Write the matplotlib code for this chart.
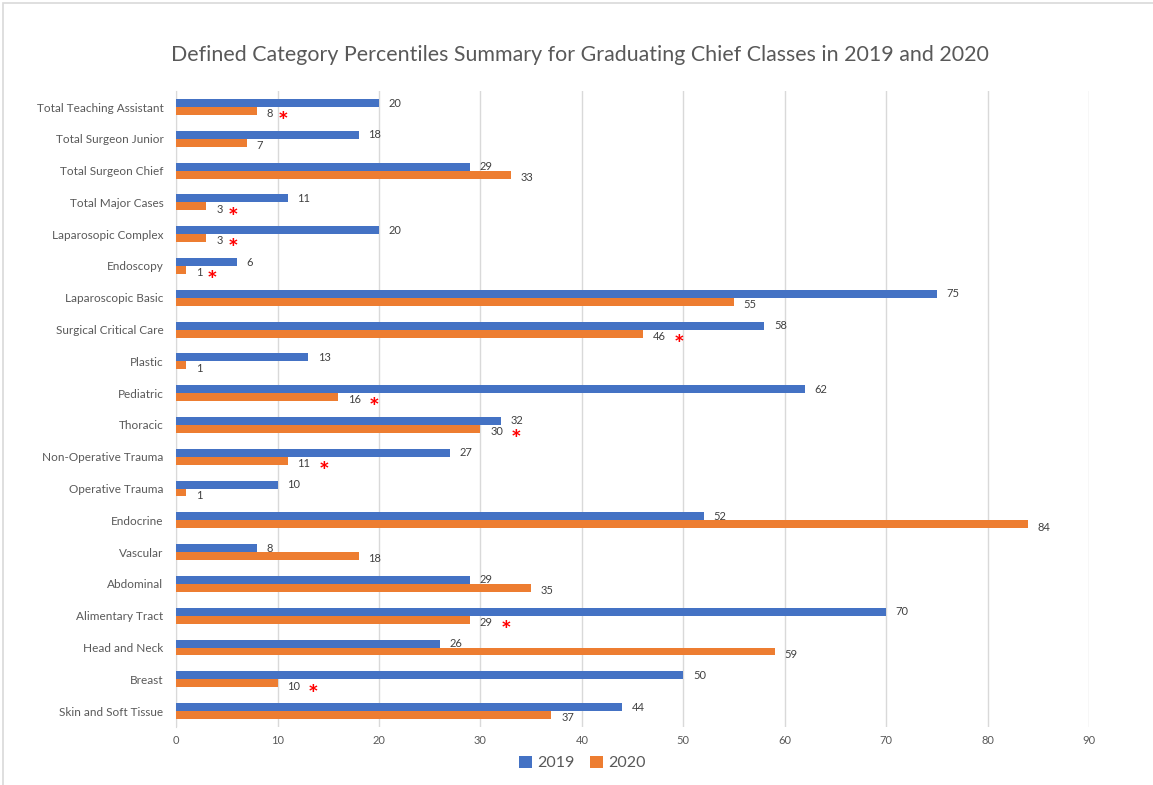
import numpy as np
import matplotlib
matplotlib.use("Agg")
import matplotlib.pyplot as plt
from matplotlib.patches import Rectangle

# categories from top to bottom, as shown in the chart
categories = [
    "Total Teaching Assistant", "Total Surgeon Junior", "Total Surgeon Chief",
    "Total Major Cases", "Laparosopic Complex", "Endoscopy", "Laparoscopic Basic",
    "Surgical Critical Care", "Plastic", "Pediatric", "Thoracic",
    "Non-Operative Trauma", "Operative Trauma", "Endocrine", "Vascular",
    "Abdominal", "Alimentary Tract", "Head and Neck", "Breast",
    "Skin and Soft Tissue",
]
values_2019 = [20, 18, 29, 11, 20, 6, 75, 58, 13, 62, 32, 27, 10, 52, 8, 29, 70, 26, 50, 44]
values_2020 = [8, 7, 33, 3, 3, 1, 55, 46, 1, 16, 30, 11, 1, 84, 18, 35, 29, 59, 10, 37]
# categories marked with a red asterisk next to the 2020 bar
flagged = [
    "Total Teaching Assistant", "Total Major Cases", "Laparosopic Complex",
    "Endoscopy", "Surgical Critical Care", "Pediatric", "Thoracic",
    "Non-Operative Trauma", "Alimentary Tract", "Breast",
]
x_ticks = [0, 10, 20, 30, 40, 50, 60, 70, 80, 90]

BLUE = "#4472C4"
ORANGE = "#ED7D31"
TEXT = "#595959"
GRID = "#D9D9D9"

plt.rcParams["font.family"] = ["Lato", "DejaVu Sans"]

fig = plt.figure(figsize=(11.53, 7.85), dpi=100)
ax = fig.add_axes([0.1527, 0.0739, 0.7918, 0.810])

# chart area border
fig.patches.append(Rectangle((3 / 1153, -0.01), 1.02, 1 - 3 / 785 + 0.01,
                             transform=fig.transFigure, fill=False,
                             edgecolor="#D9D9D9", linewidth=1.2))

n = len(categories)
y = np.arange(n)
h = 0.25
ax.barh(y - h / 2, values_2019, height=h, color=BLUE, label="2019", zorder=3)
ax.barh(y + h / 2, values_2020, height=h, color=ORANGE, label="2020", zorder=3)

for yi, v in zip(y, values_2019):
    ax.annotate(str(v), (v, yi - h / 2), xytext=(7, 0), textcoords="offset points",
                ha="left", va="center", fontsize=8, color="#404040")
for yi, v in zip(y, values_2020):
    ax.annotate(str(v), (v, yi + h / 2), xytext=(7, -2), textcoords="offset points",
                ha="left", va="center", fontsize=8, color="#404040")

for cat in flagged:
    i = categories.index(cat)
    v = values_2020[i]
    off = 22 if v >= 10 else 15
    ax.annotate("*", (v, y[i] + h / 2), xytext=(off, -8.5), textcoords="offset points",
                ha="left", va="center", fontsize=18, color="red", fontweight="bold")

ax.set_xlim(0, 90)
ax.set_ylim(n - 0.5, -0.5)
ax.set_xticks(x_ticks)
ax.set_xticklabels([str(t) for t in x_ticks])
ax.set_yticks(y)
ax.set_yticklabels(categories)
ax.tick_params(axis="y", length=0, pad=9, labelsize=8.5, labelcolor=TEXT)
ax.tick_params(axis="x", length=0, pad=6, labelsize=8, labelcolor=TEXT)
ax.grid(axis="x", color=GRID, linewidth=1, zorder=0)
for s in ["top", "right", "bottom"]:
    ax.spines[s].set_visible(False)
ax.spines["left"].set_color(GRID)

fig.suptitle("Defined Category Percentiles Summary for Graduating Chief Classes in 2019 and 2020",
             x=0.503, y=0.943, fontsize=15.4, color=TEXT)

fig.legend(loc="center", bbox_to_anchor=(0.505, 0.028), ncol=2, frameon=False,
           fontsize=11.5, handlelength=0.8, handleheight=0.8, columnspacing=1.0,
           handletextpad=0.3, labelcolor=TEXT)

fig.savefig("out.png", dpi=100)
